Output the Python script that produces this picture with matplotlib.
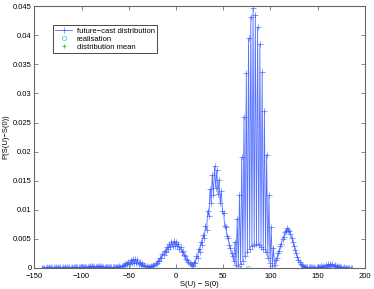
import numpy as np
import matplotlib
matplotlib.use('Agg')
import matplotlib.pyplot as plt

plt.rcParams['font.family'] = ['Liberation Sans', 'DejaVu Sans']

# lattice points of the future-cast distribution (two interleaved sub-lattices)
x_start = -141.6
x_step = 1.2

# probabilities on the "even" lattice points (units of 1e-4)
p_even = [
    0.8, 0.8, 0.9, 0.9, 0.9, 1.0, 1.0, 1.0, 1.0, 1.1, 1.1, 1.1, 1.2, 1.2, 1.2, 1.3, 1.3, 1.4,
    1.6, 1.9, 2.2, 2.6, 2.9, 3.1, 3.2, 3.0, 2.7, 2.3, 1.9, 1.6, 1.4,
    1.4, 1.6, 2.0, 2.8, 4.0, 5.8, 8.0, 10.5, 13.0, 15.0, 14.8, 13.0, 10.5, 7.8, 5.2, 3.2,
    2.2, 2.8, 4.5, 7.5, 12, 17.5, 24, 30, 36, 41, 44.5, 46, 45, 42, 36, 29, 21, 14, 8.5, 5.5,
    10, 20, 33, 45, 57, 72, 98, 135, 160, 175, 168, 152, 132, 95, 70, 52, 35, 20,
    45, 85, 125, 190, 260, 335, 395, 432, 446, 435, 414, 385, 336, 270, 195, 125, 70, 35,
    14, 26, 38, 50, 61, 68, 64, 52, 38, 25, 14, 7, 3.5, 2,
    1.4, 1.2, 1.1, 1.1, 1.3, 1.8, 2.6, 3.8, 5.2, 6.5, 7.2, 6.8, 5.5, 4.0, 2.6, 1.6, 1.0, 0.7, 0.5, 0.4,
]
# probabilities on the "odd" lattice points (units of 1e-4)
p_odd = [
    0.5, 0.5, 0.5, 0.6, 0.6, 0.6, 0.6, 0.7, 0.7, 0.7, 0.7, 0.8, 0.8, 0.8, 0.9, 0.9, 1.0, 1.0,
    1.2, 1.4, 1.7, 2.0, 2.3, 2.5, 2.5, 2.3, 2.1, 1.8, 1.5, 1.2, 1.1,
    1.0, 1.2, 1.6, 2.2, 3.2, 4.6, 6.0, 7.4, 8.2, 8.4, 8.0, 7.0, 5.6, 4.0, 2.6, 1.8,
    1.8, 2.8, 4.8, 8, 12.5, 17.5, 23, 28, 32.5, 36, 38, 38.5, 37, 33, 28, 22, 16, 10.5, 6, 3.5,
    8, 17, 28, 40, 52, 66, 90, 112, 125, 138, 128, 112, 98, 72, 55, 40, 26, 12,
    5, 4, 6, 12, 20, 27, 33, 37, 40, 41, 39, 36, 32, 27, 18, 9, 4, 5,
    17, 29, 42, 54, 63, 66, 58, 45, 31, 19, 10, 5, 2.5, 1.5,
    1.0, 0.9, 0.8, 0.8, 0.9, 1.1, 1.5, 2.0, 2.5, 2.8, 2.9, 2.6, 2.1, 1.6, 1.1, 0.8, 0.6, 0.4, 0.3, 0.3,
]

realisation = 76.7
dist_mean = 67.8

xticks = [-150, -100, -50, 0, 50, 100, 150, 200]
yticks = [0, 0.005, 0.01, 0.015, 0.02, 0.025, 0.03, 0.035, 0.04, 0.045]
ytick_labels = ['0', '0.005', '0.01', '0.015', '0.02', '0.025', '0.03', '0.035', '0.04', '0.045']

p = np.empty(2 * len(p_even))
p[0::2] = p_even
p[1::2] = p_odd
p = p * 1e-4
x = x_start + x_step * np.arange(len(p))

fig = plt.figure(figsize=(3.74, 2.89), dpi=100)
ax = fig.add_axes([0.0917, 0.0727, 0.884, 0.906])

ax.plot(x, p, color='#3858ff', lw=0.6, marker='+', ms=3.8, mew=0.5, alpha=0.85,
        label='future\u2212cast distribution')
ax.plot([realisation], [0], ls='none', marker='o', ms=3, mfc='none',
        mec='#33dddd', mew=0.6, label='realisation')
ax.plot([dist_mean], [0], ls='none', marker='+', ms=3.5, mec='#33cc33',
        mew=0.7, label='distribution mean')

ax.set_xlim(-150, 200)
ax.set_ylim(0, 0.045)
ax.set_xticks(xticks)
ax.set_xticklabels([str(t).replace('-', '\u2212') for t in xticks])
ax.set_yticks(yticks)
ax.set_yticklabels(ytick_labels)
ax.tick_params(direction='in', length=3, width=0.5, labelsize=5.5,
               top=True, right=True, color='#555555')
ax.tick_params(axis='x', pad=3.5)
ax.tick_params(axis='y', pad=2)
for s in ax.spines.values():
    s.set_linewidth(0.8)
    s.set_color('#666666')

ax.set_xlabel('S(U) \u2212 S(0)', fontsize=5.5, labelpad=0.5)
ax.set_ylabel('P(S(U)\u2212S(0))', fontsize=5.5, labelpad=2)

leg = ax.legend(loc='upper left', bbox_to_anchor=(0.057, 0.927), fontsize=5.5,
                fancybox=False, edgecolor='black', framealpha=1,
                borderpad=0.3, labelspacing=0.1, handlelength=2.2,
                handletextpad=0.6, borderaxespad=0)
leg.get_frame().set_linewidth(0.5)

fig.savefig('out.png', dpi=100)
